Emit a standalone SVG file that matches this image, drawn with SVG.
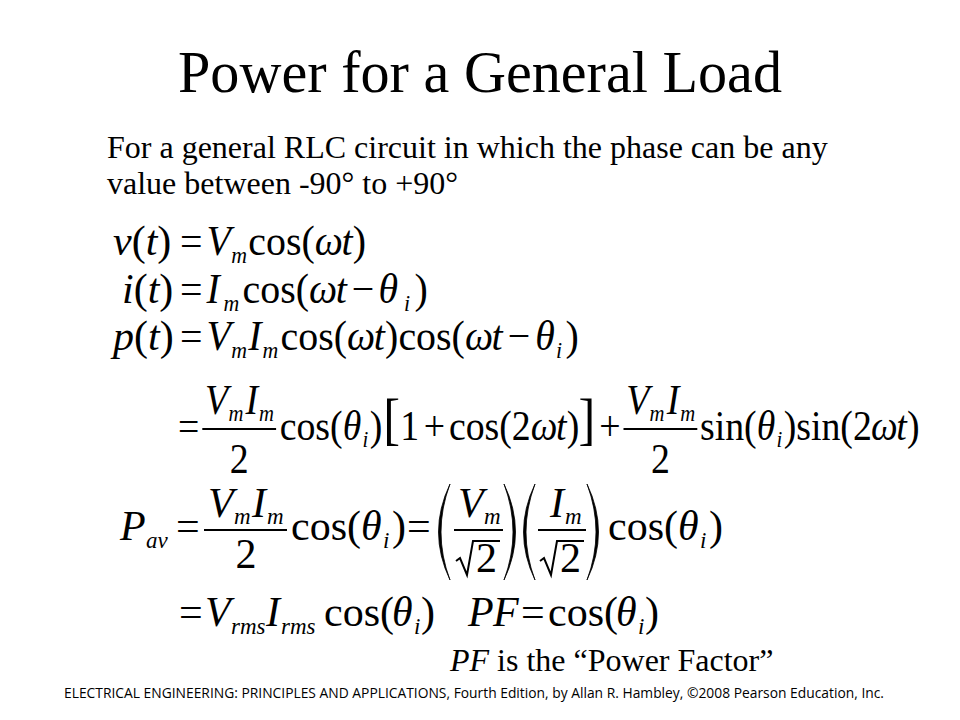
<svg xmlns="http://www.w3.org/2000/svg" width="960" height="720" viewBox="0 0 960 720">
<style>
text { font-family: "Liberation Serif", "Times New Roman", serif; fill: #000; }
.t { font-size: 59px; }
.b { font-size: 32px; }
.m { font-size: 42px; }
.s { font-size: 23px; font-style: italic; }
.i { font-style: italic; }
.big { font-size: 56px; }
.f { font-family: "Open Sans", "DejaVu Sans", sans-serif; font-size: 14px; }
.bar { stroke: #000; stroke-width: 1.8; }
.rad { fill: none; stroke: #000; stroke-width: 2; stroke-linejoin: miter; }
.par { fill: #000; stroke: #000; stroke-width: 0.8; }
</style>
<rect width="960" height="720" fill="#fff"/>

<g id="title">
<text class="t" x="178" y="92" textLength="604" lengthAdjust="spacingAndGlyphs">Power for a General Load</text>
</g>

<g id="intro">
<text class="b" x="107" y="158">For a general RLC circuit in which the phase can be any</text>
<text class="b" x="107" y="194">value between -90° to +90°</text>
</g>

<g id="eq1">
<text class="m" x="113" y="255"><tspan class="i">v</tspan>(<tspan class="i">t</tspan>)</text>
<g transform="matrix(0.95 0 0 1 8.9 0)">
<text class="m" x="180" y="255">=</text>
<text class="m i" x="208" y="255">V</text>
<text class="s" x="234" y="263">m</text>
<text class="m" x="252" y="255">cos(</text>
<text class="m i" x="322" y="255">ω</text>
<text class="m i" x="350" y="255">t</text>
<text class="m" x="362" y="255">)</text>
</g>
</g>

<g id="eq2">
<text class="m" x="122" y="303"><tspan class="i">i</tspan>(<tspan class="i">t</tspan>)</text>
<g transform="matrix(0.95 0 0 1 8.9 0)">
<text class="m" x="180" y="303">=</text>
<text class="m i" x="208" y="303">I</text>
<text class="s" x="226" y="311">m</text>
<text class="m" x="246" y="303">cos(</text>
<text class="m i" x="316" y="303">ω</text>
<text class="m i" x="344" y="303">t</text>
<text class="m" x="361" y="303">−</text>
<text class="m i" x="389" y="303">θ</text>
<text class="s" x="416" y="311">i</text>
<text class="m" x="427" y="303">)</text>
</g>
</g>

<g id="eq3">
<text class="m" x="113" y="350"><tspan class="i">p</tspan>(<tspan class="i">t</tspan>)</text>
<g transform="matrix(0.95 0 0 1 8.9 0)">
<text class="m" x="180" y="350">=</text>
<text class="m i" x="208" y="350">V</text>
<text class="s" x="234" y="358">m</text>
<text class="m i" x="252" y="350">I</text>
<text class="s" x="267" y="358">m</text>
<text class="m" x="286" y="350">cos(</text>
<text class="m i" x="356" y="350">ω</text>
<text class="m i" x="384" y="350">t</text>
<text class="m" x="396" y="350">)cos(</text>
<text class="m i" x="480" y="350">ω</text>
<text class="m i" x="508" y="350">t</text>
<text class="m" x="525" y="350">−</text>
<text class="m i" x="554" y="350">θ</text>
<text class="s" x="576" y="358">i</text>
<text class="m" x="586" y="350">)</text>
</g>
</g>

<g id="eq4">
<g transform="matrix(0.9 0 0 1 17.8 0)">
<text class="m" x="178" y="440">=</text>
<line class="bar" x1="205" y1="429" x2="287" y2="429"/>
<text class="m i" x="208" y="414">V</text>
<text class="s" x="234" y="421">m</text>
<text class="m i" x="253" y="414">I</text>
<text class="s" x="268" y="421">m</text>
<text class="m" x="246" y="473" text-anchor="middle">2</text>
<text class="m" x="291" y="440">cos(</text>
<text class="m i" x="361" y="440">θ</text>
<text class="s" x="383" y="447">i</text>
<text class="m" x="391" y="440">)</text>
<text class="big" x="406" y="438">[</text>
<text class="m" x="425" y="440">1</text>
<text class="m" x="451" y="440">+</text>
<text class="m" x="479" y="440">cos(2</text>
<text class="m i" x="570" y="440">ω</text>
<text class="m i" x="598" y="440">t</text>
<text class="m" x="610" y="440">)</text>
<text class="big" x="623" y="438">]</text>
<text class="m" x="646" y="440">+</text>
<line class="bar" x1="673" y1="429" x2="755" y2="429"/>
<text class="m i" x="676" y="414">V</text>
<text class="s" x="702" y="421">m</text>
<text class="m i" x="721" y="414">I</text>
<text class="s" x="736" y="421">m</text>
<text class="m" x="714" y="473" text-anchor="middle">2</text>
<text class="m" x="758" y="440">sin(</text>
<text class="m i" x="821" y="440">θ</text>
<text class="s" x="843" y="447">i</text>
<text class="m" x="851" y="440">)sin(2</text>
<text class="m i" x="948" y="440">ω</text>
<text class="m i" x="976" y="440">t</text>
<text class="m" x="988" y="440">)</text>
</g>
</g>

<g id="eq5">
<text class="m i" x="120" y="540">P</text>
<text class="s" x="146" y="548">av</text>
<text class="m" x="176" y="540">=</text>
<line class="bar" x1="204" y1="530" x2="287" y2="530"/>
<text class="m i" x="208" y="517">V</text>
<text class="s" x="234" y="524">m</text>
<text class="m i" x="252" y="517">I</text>
<text class="s" x="267" y="524">m</text>
<text class="m" x="246" y="568" text-anchor="middle">2</text>
<text class="m" x="291" y="540">cos(</text>
<text class="m i" x="361" y="540">θ</text>
<text class="s" x="383" y="548">i</text>
<text class="m" x="392" y="540">)</text>
<text class="m" x="407" y="540">=</text>
<path class="par" d="M450,484 Q427,532 450,580 Q432,532 450,484 Z"/>
<line class="bar" x1="454" y1="530" x2="503" y2="530"/>
<text class="m i" x="458" y="517">V</text>
<text class="s" x="484" y="524">m</text>
<path class="rad" d="M456,561 L460,558 L467,575 L473,541 L500,541"/>
<text class="m" x="476" y="572">2</text>
<path class="par" d="M504,484 Q527,532 504,580 Q522,532 504,484 Z"/>
<path class="par" d="M535,484 Q512,532 535,580 Q517,532 535,484 Z"/>
<line class="bar" x1="538" y1="530" x2="586" y2="530"/>
<text class="m i" x="550" y="517">I</text>
<text class="s" x="565" y="524">m</text>
<path class="rad" d="M540,561 L544,558 L551,575 L557,541 L584,541"/>
<text class="m" x="560" y="572">2</text>
<path class="par" d="M587,484 Q610,532 587,580 Q605,532 587,484 Z"/>
<text class="m" x="608" y="540">cos(</text>
<text class="m i" x="678" y="540">θ</text>
<text class="s" x="700" y="548">i</text>
<text class="m" x="709" y="540">)</text>
</g>

<g id="eq6">
<text class="m" x="179" y="626">=</text>
<text class="m i" x="205" y="626">V</text>
<text class="s" x="231" y="634">rms</text>
<text class="m i" x="266" y="626">I</text>
<text class="s" x="281" y="634">rms</text>
<text class="m" x="324" y="626">cos(</text>
<text class="m i" x="392" y="626">θ</text>
<text class="s" x="414" y="634">i</text>
<text class="m" x="421" y="626">)</text>
</g>

<g id="eq7">
<text class="m i" x="468" y="626">P</text>
<text class="m i" x="493" y="626">F</text>
<text class="m" x="521" y="626">=</text>
<text class="m" x="548" y="626">cos(</text>
<text class="m i" x="616" y="626">θ</text>
<text class="s" x="638" y="634">i</text>
<text class="m" x="645" y="626">)</text>
</g>

<g id="note">
<text class="b" x="450" y="671"><tspan class="i">PF</tspan> is the “Power Factor”</text>
</g>

<g id="footer">
<text class="f" x="64" y="698" textLength="820" lengthAdjust="spacingAndGlyphs">ELECTRICAL ENGINEERING: PRINCIPLES AND APPLICATIONS, Fourth Edition, by Allan R. Hambley, ©2008 Pearson Education, Inc.</text>
</g>
</svg>
